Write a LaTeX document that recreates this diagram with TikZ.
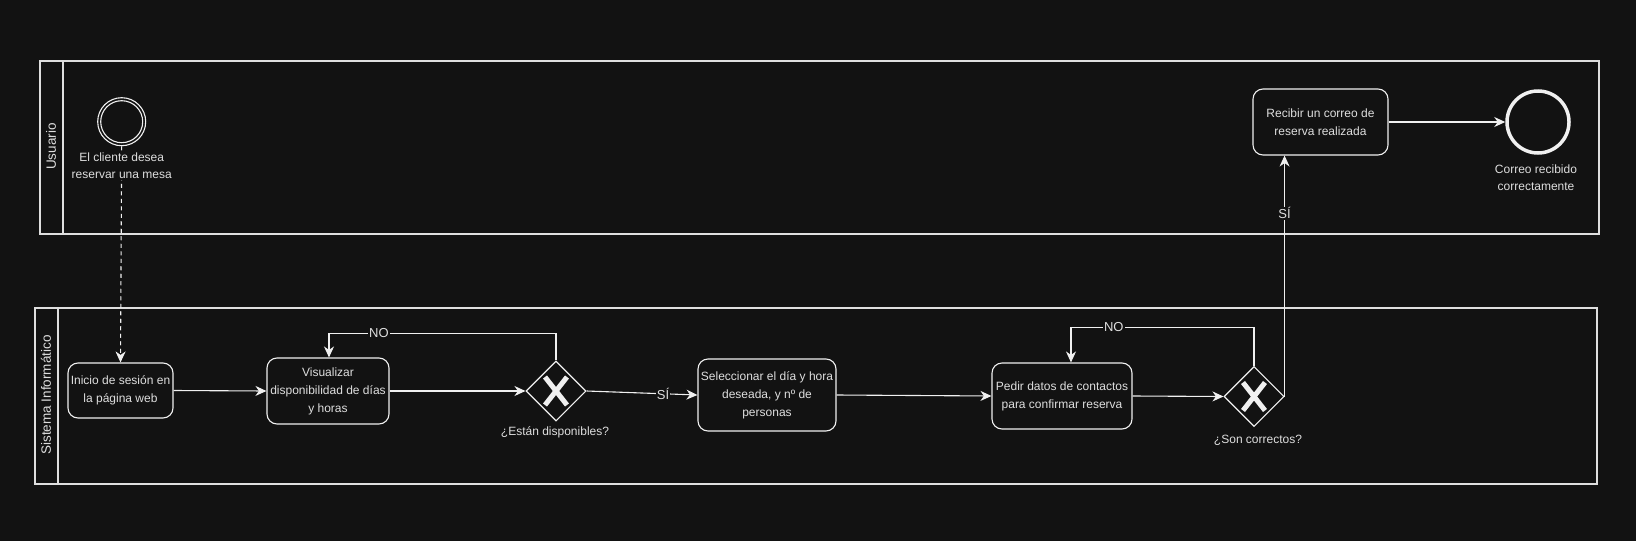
\documentclass[tikz,border=0pt]{standalone}
\usepackage{fontspec}
\setmainfont{Liberation Sans}
\usetikzlibrary{shapes.geometric,arrows.meta}
\definecolor{bg}{RGB}{18,18,18}
\definecolor{ln}{RGB}{240,240,240}
\definecolor{pl}{RGB}{222,222,222}
\definecolor{tx}{RGB}{222,222,222}
\begin{document}
\begin{tikzpicture}[x=1pt,y=-1pt,
  pool/.style={draw=pl, line width=1.8pt, inner sep=0},
  lane/.style={rotate=90, text=tx, font=\fontsize{13.5}{15}\selectfont, inner sep=0},
  task/.style={draw=ln, line width=1.1pt, rounded corners=10pt, fill=bg, text=tx, align=center,
    font=\fontsize{12}{18}\selectfont, inner sep=0},
  gw/.style={diamond, draw=ln, line width=1.1pt, minimum width=60pt, minimum height=60pt, inner sep=0},
  xmark/.style={draw=ln, line width=5pt},
  lbl/.style={text=tx, align=center, font=\fontsize{12}{17.5}\selectfont, inner sep=1pt},
  elbl/.style={text=tx, fill=bg, font=\fontsize{13}{15}\selectfont, inner sep=1pt},
  flow/.style={draw=ln, line width=1.1pt, -{Stealth[length=11pt,width=10pt,inset=3.5pt]}},
  dflow/.style={flow, dash pattern=on 4pt off 3.5pt}
]
\useasboundingbox[fill=bg] (0,0) rectangle (1636,541);

% pools
\node[pool, anchor=north west, minimum width=1559pt, minimum height=173pt] (p1) at (39,60) {};
\draw[pool] ([xshift=24pt]p1.north west) -- ([xshift=24pt]p1.south west);
\node[lane] (l1) at (51,146.5) {Usuario};

\node[pool, anchor=north west, minimum width=1562pt, minimum height=176pt] (p2) at (34,307) {};
\draw[pool] ([xshift=24pt]p2.north west) -- ([xshift=24pt]p2.south west);
\node[lane] (l2) at (46,395) {Sistema Informático};

% events
\node[circle, draw=ln, line width=1.1pt, minimum size=48pt, inner sep=0] (start) at (121.7,121.7) {};
\node[circle, draw=ln, line width=1.1pt, minimum size=42pt, inner sep=0] (starti) at (121.7,121.7) {};
\node[circle, draw=ln, line width=3.5pt, minimum size=62pt, inner sep=0] (end) at (1538,122) {};
\node[lbl] (endl) at (1536,177.5) {Correo recibido\\correctamente};

% tasks
\node[task, minimum width=105pt, minimum height=55pt] (inicio) at (120.5,390.5) {Inicio de sesión en\\la página web};
\node[task, minimum width=122pt, minimum height=66pt] (vis) at (328,391) {Visualizar\\disponibilidad de días\\y horas};
\node[task, minimum width=138pt, minimum height=72pt] (sel) at (767,395) {Seleccionar el día y hora\\deseada, y nº de\\personas};
\node[task, minimum width=140pt, minimum height=66pt] (ped) at (1062,396) {Pedir datos de contactos\\para confirmar reserva};
\node[task, minimum width=135pt, minimum height=66pt] (rec) at (1320.5,122) {Recibir un correo de\\reserva realizada};

% gateways
\node[gw] (g1) at (556,391) {};
\draw[xmark] ([shift={(-11,-14)}]g1.center) -- ([shift={(11,14)}]g1.center);
\draw[xmark] ([shift={(-11,14)}]g1.center) -- ([shift={(11,-14)}]g1.center);
\node[lbl] (g1l) at (555,432) {¿Están disponibles?};

\node[gw] (g2) at (1254,396.5) {};
\draw[xmark] ([shift={(-11,-14)}]g2.center) -- ([shift={(11,14)}]g2.center);
\draw[xmark] ([shift={(-11,14)}]g2.center) -- ([shift={(11,-14)}]g2.center);
\node[lbl] (g2l) at (1258,440) {¿Son correctos?};

% flows
\draw[dflow] (start.south) -- (inicio.north);
\node[lbl, fill=bg] (startl) at (121.7,165.5) {El cliente desea\\reservar una mesa};

\draw[flow] (inicio.east) -- (vis.west);
\draw[flow] (vis.east) -- (g1.west);
\draw[flow] (g1.east) -- node[elbl, pos=0.69] {SÍ} (sel.west);
\draw[flow] (g1.north) -- ++(0,-27) -| node[elbl, pos=0.39] {NO} ([xshift=1pt]vis.north);
\draw[flow] (sel.east) -- (ped.west);
\draw[flow] (ped.east) -- (g2.west);
\draw[flow] (g2.north) -- ++(0,-38.5) -| node[elbl, pos=0.383] {NO} ([xshift=9pt]ped.north);
\draw[flow] (g2.east) -- node[elbl, pos=0.76] {SÍ} (g2.east |- rec.south);
\draw[flow] (rec.east) -- (end.west);
\end{tikzpicture}
\end{document}
